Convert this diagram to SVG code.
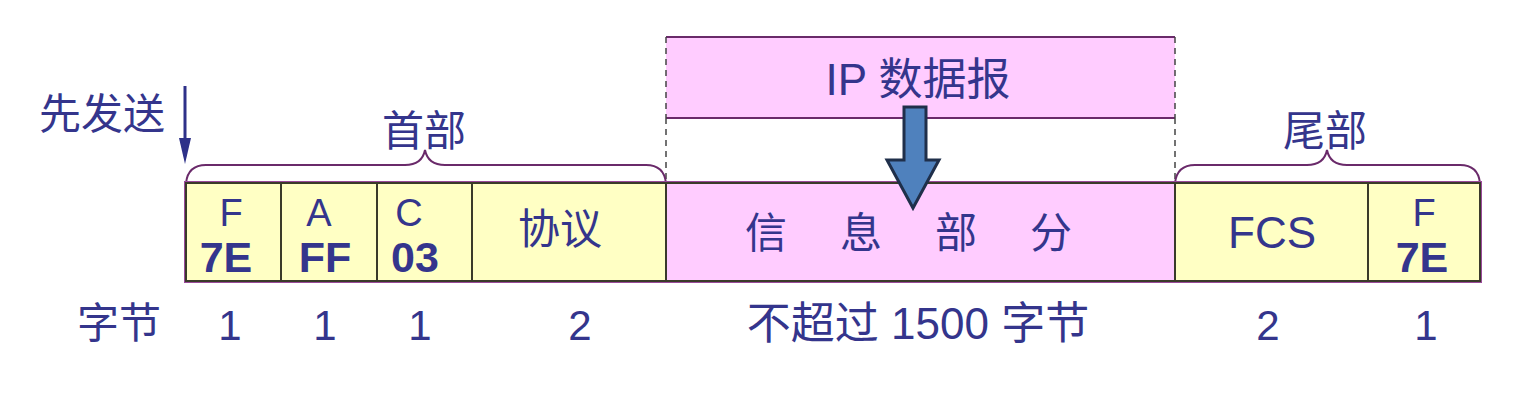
<svg xmlns="http://www.w3.org/2000/svg" width="1534" height="408" viewBox="0 0 1534 408">
<style>
.t{font-family:"Liberation Sans","Noto Sans CJK SC",sans-serif;fill:#34358c;text-anchor:middle}
.c{font-family:"Noto Sans CJK SC","Liberation Sans",sans-serif;fill:#34358c;text-anchor:middle;font-size:42px}
.b{font-weight:bold}
.y{fill:#ffffc4;stroke:#3a3a2a;stroke-width:2}
.p{fill:#ffccff;stroke:#3a3a2a;stroke-width:2}
.br{fill:none;stroke:#6a2a6a;stroke-width:2}
.dash{stroke:#444;stroke-width:1.5;stroke-dasharray:6,5;fill:none}
</style>
<rect width="1534" height="408" fill="#fff"/>

<g id="send">
<text class="c" x="102" y="129">先发送</text>
<line x1="185" y1="86" x2="185" y2="145" stroke="#2e3189" stroke-width="3"/>
<path d="M179,138 L191,138 L185,164 Z" fill="#2e3189"/>
</g>

<g id="ipbox">
<rect x="666" y="37" width="509" height="81" fill="#ffccff"/>
<line x1="666" y1="37" x2="1175" y2="37" stroke="#6a2a6a" stroke-width="2"/>
<line x1="666" y1="118" x2="1175" y2="118" stroke="#6a2a6a" stroke-width="2"/>
<line x1="666" y1="37" x2="666" y2="118" class="dash"/>
<line x1="1175" y1="37" x2="1175" y2="118" class="dash"/>
<text class="t" x="918" y="95" font-size="44">IP 数据报</text>
</g>

<g id="connectors">
<line x1="666" y1="118" x2="666" y2="183" class="dash"/>
<line x1="1175" y1="118" x2="1175" y2="183" class="dash"/>
</g>

<g id="header-brace">
<path class="br" d="M186,183 Q188,165 206,165 L405,165 Q422,165 425,150 Q428,165 445,165 L646,165 Q664,165 666,183"/>
<text class="c" x="424" y="146">首部</text>
</g>
<g id="trailer-brace">
<path class="br" d="M1175,183 Q1177,165 1195,165 L1307,165 Q1324,165 1327,150 Q1330,165 1347,165 L1460,165 Q1478,165 1480,183" stroke="#333"/>
<text class="c" x="1325" y="146">尾部</text>
</g>

<g id="frame">
<rect x="186" y="183" width="1294" height="98" fill="none" stroke="#9a4a9a" stroke-width="4"/>
</g>

<g id="cell-F1">
<rect class="y" x="186" y="183" width="95" height="98"/>
<text class="t" x="231" y="226" font-size="38">F</text>
<text class="t b" x="226" y="272" font-size="43">7E</text>
</g>
<g id="cell-A">
<rect class="y" x="281" y="183" width="96" height="98"/>
<text class="t" x="319" y="226" font-size="38">A</text>
<text class="t b" x="325" y="272" font-size="43">FF</text>
</g>
<g id="cell-C">
<rect class="y" x="377" y="183" width="95" height="98"/>
<text class="t" x="409" y="226" font-size="38">C</text>
<text class="t b" x="415" y="272" font-size="43">03</text>
</g>
<g id="cell-proto">
<rect class="y" x="472" y="183" width="194" height="98"/>
<text class="c" x="560" y="244">协议</text>
</g>
<g id="cell-info">
<rect class="p" x="666" y="183" width="509" height="98"/>
<text class="c" x="766" y="248">信</text>
<text class="c" x="861" y="248">息</text>
<text class="c" x="956" y="248">部</text>
<text class="c" x="1051" y="248">分</text>
</g>
<g id="cell-FCS">
<rect class="y" x="1175" y="183" width="193" height="98"/>
<text class="t" x="1272" y="248" font-size="44">FCS</text>
</g>
<g id="cell-F2">
<rect class="y" x="1368" y="183" width="112" height="98"/>
<text class="t" x="1424" y="226" font-size="38">F</text>
<text class="t b" x="1422" y="272" font-size="43">7E</text>
</g>

<g id="bigarrow">
<path d="M904,107 L926,107 L926,160 L939,160 L913,208 L887,160 L904,160 Z" fill="#4f81bd" stroke="#1f2f4a" stroke-width="3" stroke-linejoin="miter"/>
</g>

<g id="bytes">
<text class="c" x="119" y="338">字节</text>
<text class="t" x="230" y="340" font-size="42">1</text>
<text class="t" x="325" y="340" font-size="42">1</text>
<text class="t" x="420" y="340" font-size="42">1</text>
<text class="t" x="580" y="340" font-size="42">2</text>
<text class="t" x="918" y="339" font-size="44">不超过 1500 字节</text>
<text class="t" x="1268" y="340" font-size="42">2</text>
<text class="t" x="1426" y="340" font-size="42">1</text>
</g>
</svg>
